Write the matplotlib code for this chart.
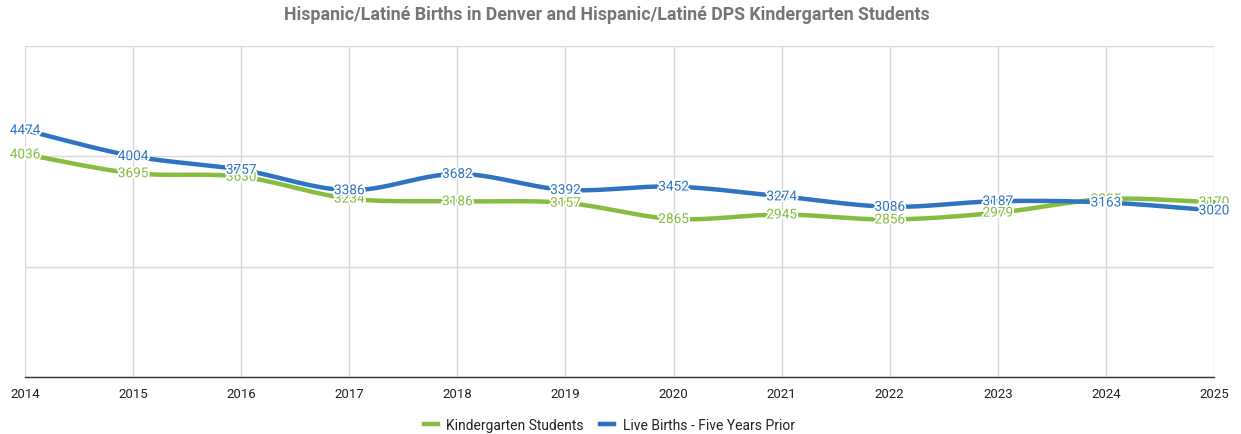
import numpy as np
import matplotlib
matplotlib.use("Agg")
import matplotlib.pyplot as plt
import matplotlib.patheffects as pe
from matplotlib.lines import Line2D

years = [2014, 2015, 2016, 2017, 2018, 2019, 2020, 2021, 2022, 2023, 2024, 2025]
kindergarten = [4036, 3695, 3630, 3234, 3186, 3157, 2865, 2945, 2856, 2979, 3225, 3170]
births = [4474, 4004, 3757, 3386, 3682, 3392, 3452, 3274, 3086, 3187, 3163, 3020]
series_names = ["Kindergarten Students", "Live Births - Five Years Prior"]
title = "Hispanic/Latiné Births in Denver and Hispanic/Latiné DPS Kindergarten Students"

GREEN = "#86bc3f"
BLUE = "#2f74c0"

plt.rcParams['font.family'] = ['Roboto', 'DejaVu Sans']


def smooth(x, y, n=30):
    x = np.asarray(x, float)
    y = np.asarray(y, float)
    m = np.gradient(y, x)
    xs, ys = [], []
    for i in range(len(x) - 1):
        h = x[i + 1] - x[i]
        t = np.linspace(0, 1, n)
        h00 = 2 * t**3 - 3 * t**2 + 1
        h10 = t**3 - 2 * t**2 + t
        h01 = -2 * t**3 + 3 * t**2
        h11 = t**3 - t**2
        xs.append(x[i] + t * h)
        ys.append(h00 * y[i] + h10 * h * m[i] + h01 * y[i + 1] + h11 * h * m[i + 1])
    return np.concatenate(xs), np.concatenate(ys)


fig = plt.figure(figsize=(12.41, 4.35), dpi=100)
ax = fig.add_axes([25 / 1241, (435 - 378) / 435, (1214 - 25) / 1241, (378 - 47) / 435])

ax.set_xlim(years[0], years[-1])
ax.set_ylim(0, 6000)
ax.set_xticks(years)
ax.set_xticklabels([str(y) for y in years], fontsize=9.5, color="#222222")
ax.set_yticks([0, 2000, 4000, 6000])
ax.set_yticklabels([])
ax.tick_params(axis='both', length=0, pad=7)
ax.grid(True, color="#d9d9d9", linewidth=1)
for s in ['top', 'right', 'left']:
    ax.spines[s].set_visible(False)
ax.spines['bottom'].set_color("#333333")
ax.spines['bottom'].set_linewidth(1)

for vals, col, name in [(kindergarten, GREEN, series_names[0]), (births, BLUE, series_names[1])]:
    xs, ys = smooth(years, vals)
    ax.plot(xs, ys, color=col, linewidth=3.2, solid_capstyle='round', clip_on=False, zorder=3)

for vals, col in [(kindergarten, GREEN), (births, BLUE)]:
    for x, v in zip(years, vals):
        ax.text(x, v, str(v), color=col, fontsize=9.8, ha='center', va='center', zorder=5,
                path_effects=[pe.withStroke(linewidth=2.5, foreground='white')], clip_on=False)

fig.text(606.5 / 1241, 1 - 15 / 435, title, ha='center', va='center', fontsize=12.8,
         fontweight='bold', color="#757575", family=['Liberation Sans Narrow', 'Roboto', 'DejaVu Sans'])

handles = [Line2D([0], [0], color=GREEN, lw=3.2), Line2D([0], [0], color=BLUE, lw=3.2)]
fig.legend(handles, series_names, loc='center', bbox_to_anchor=(0.491, 1 - 426 / 435), ncol=2,
           frameon=False, fontsize=10, handlelength=1.0, handletextpad=0.6, columnspacing=1.2,
           labelcolor="#222222")

fig.savefig("out.png", dpi=100)
